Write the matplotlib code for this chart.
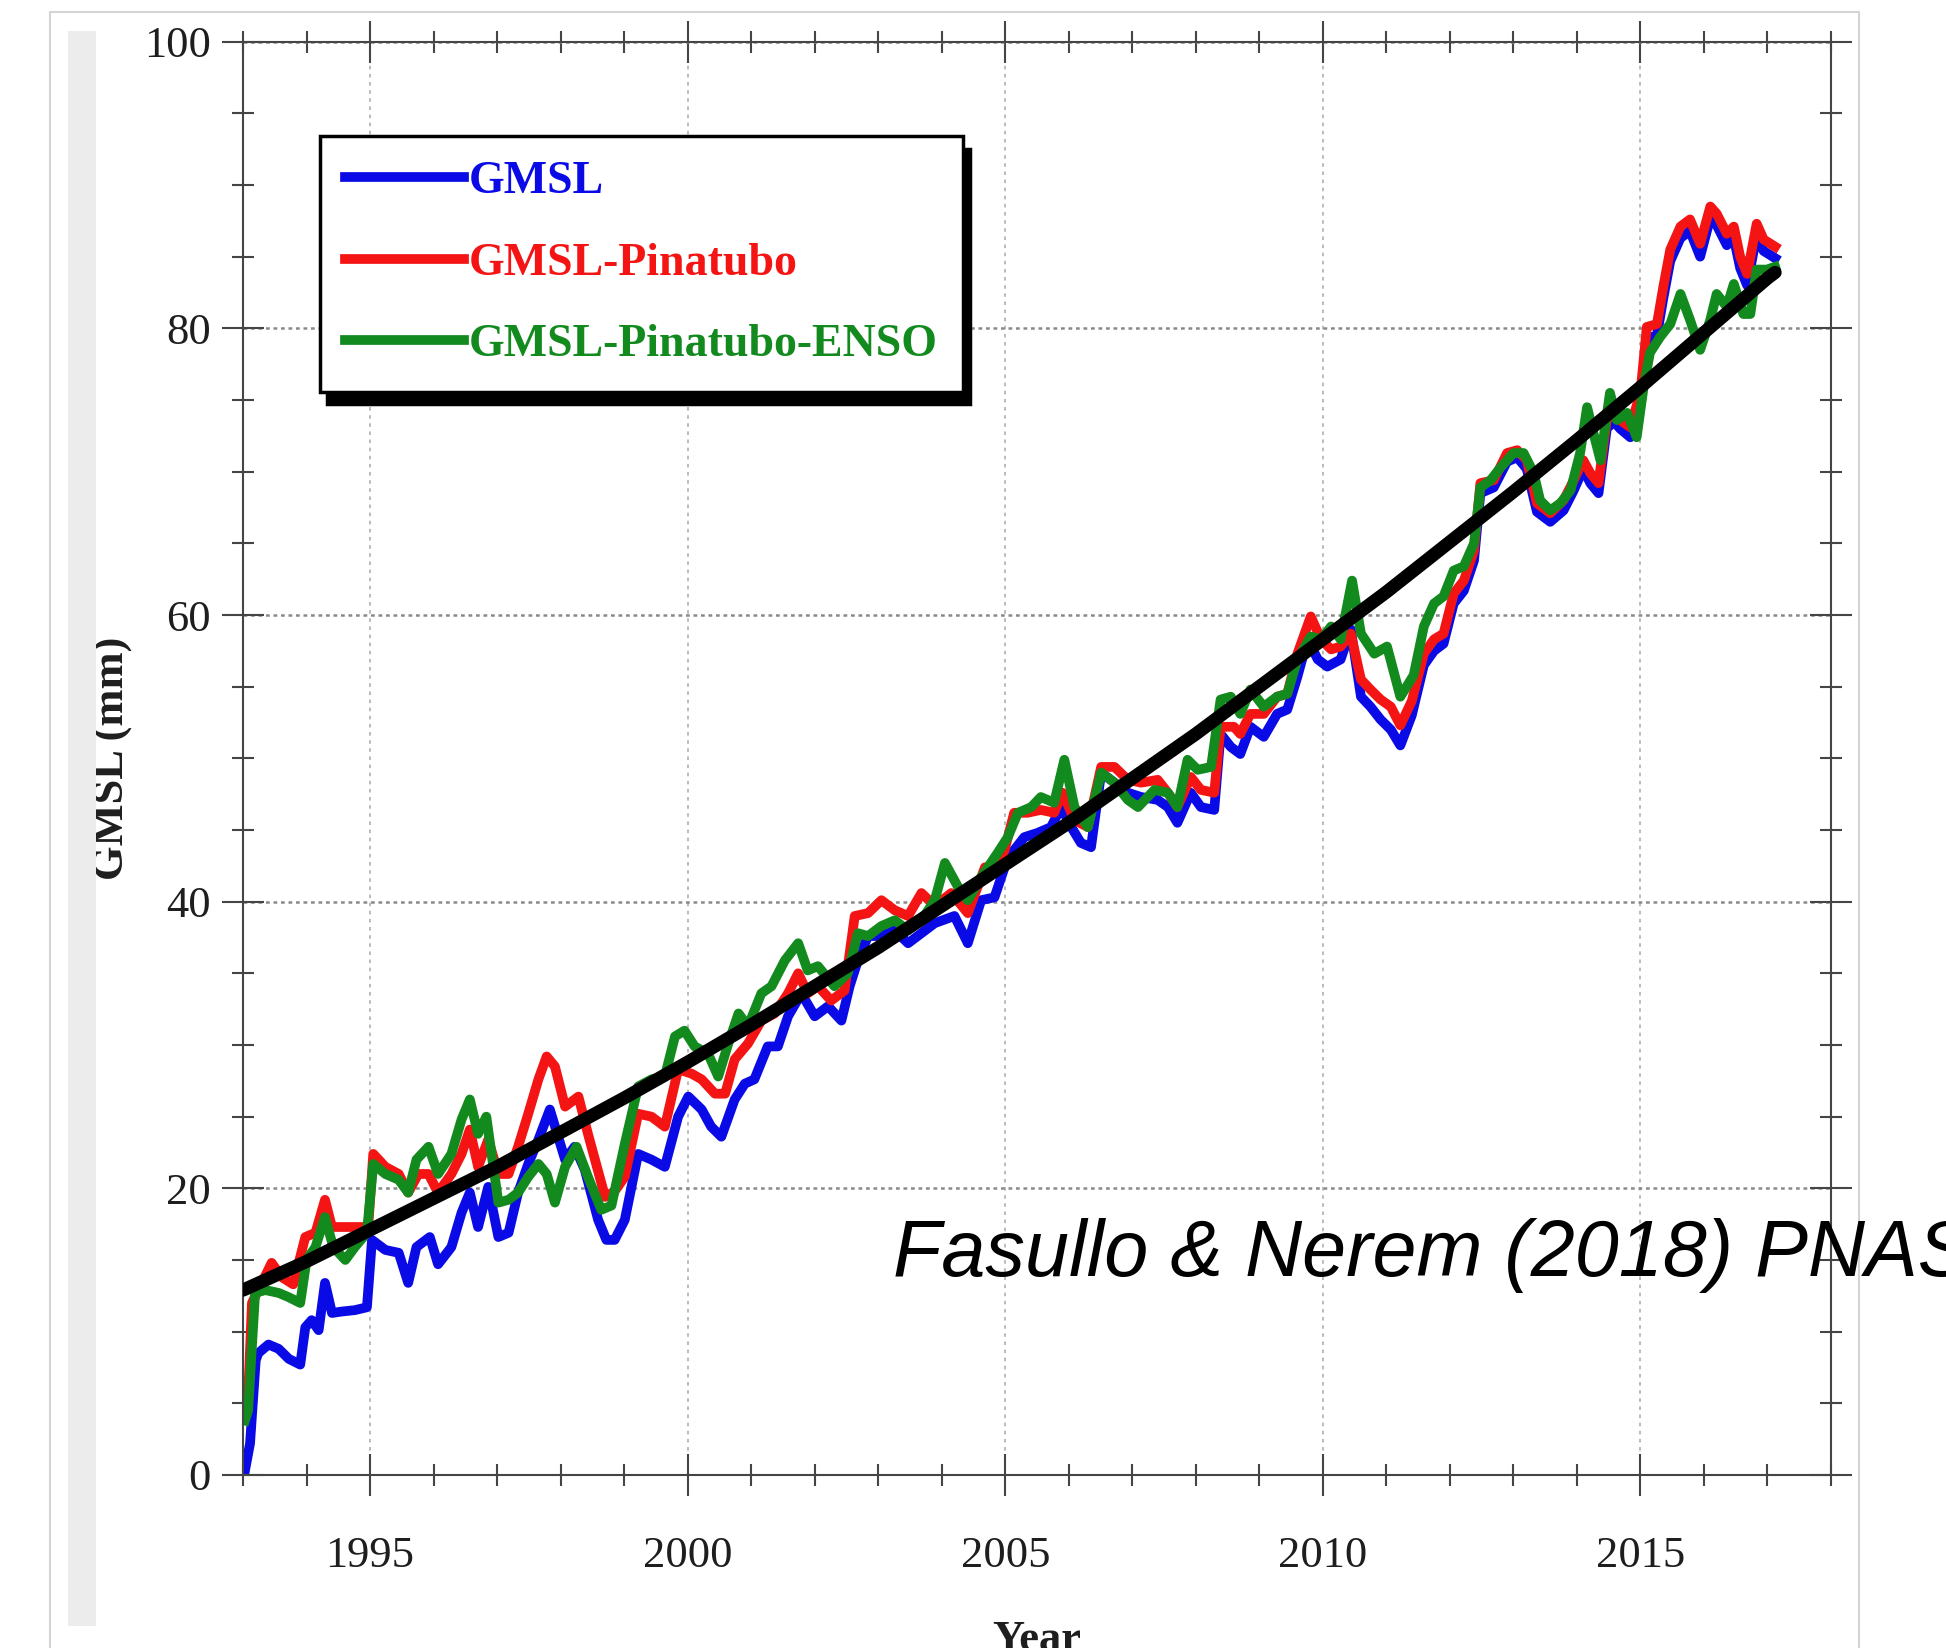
import numpy as np
import matplotlib.pyplot as plt
from matplotlib.ticker import MultipleLocator
from matplotlib.patches import Rectangle

plt.rcParams['font.family'] = ['Liberation Serif', 'DejaVu Serif']

# GMSL series (year, mm)
gmsl_year = [1993.03, 1993.11, 1993.2, 1993.24, 1993.4, 1993.56, 1993.72, 1993.9, 1993.98, 1994.08,
             1994.19, 1994.29, 1994.4, 1994.55, 1994.76, 1994.95, 1995.03, 1995.24, 1995.45, 1995.6,
             1995.73, 1995.94, 1996.07, 1996.28, 1996.44, 1996.57, 1996.7, 1996.86, 1997.02, 1997.18,
             1997.33, 1997.49, 1997.65, 1997.83, 1997.96, 1998.07, 1998.22, 1998.38, 1998.59, 1998.72,
             1998.85, 1999.01, 1999.22, 1999.43, 1999.64, 1999.85, 2000.01, 2000.22, 2000.37, 2000.53,
             2000.74, 2000.9, 2001.05, 2001.26, 2001.42, 2001.58, 2001.79, 2002.0, 2002.21, 2002.42,
             2002.55, 2002.68, 2002.84, 2003.05, 2003.26, 2003.47, 2003.68, 2003.89, 2004.2, 2004.41,
             2004.62, 2004.83, 2004.99, 2005.14, 2005.3, 2005.51, 2005.72, 2005.88, 2006.04, 2006.19,
             2006.35, 2006.51, 2006.72, 2006.93, 2007.14, 2007.4, 2007.56, 2007.71, 2007.92, 2008.08,
             2008.29, 2008.39, 2008.55, 2008.7, 2008.86, 2009.07, 2009.28, 2009.44, 2009.6, 2009.76,
             2009.92, 2010.07, 2010.28, 2010.44, 2010.6, 2010.75, 2010.91, 2011.07, 2011.22, 2011.4,
             2011.59, 2011.75, 2011.9, 2012.06, 2012.22, 2012.38, 2012.48, 2012.69, 2012.9, 2013.06,
             2013.21, 2013.37, 2013.58, 2013.79, 2013.95, 2014.1, 2014.21, 2014.34, 2014.47, 2014.58,
             2014.68, 2014.84, 2015.0, 2015.1, 2015.26, 2015.36, 2015.47, 2015.63, 2015.78, 2015.94,
             2016.1, 2016.2, 2016.36, 2016.47, 2016.57, 2016.68, 2016.83, 2016.94, 2017.12]
gmsl = [0.3, 2.2, 8.0, 8.5, 9.1, 8.8, 8.1, 7.7, 10.3, 10.8,
        10.1, 13.4, 11.3, 11.4, 11.5, 11.7, 16.4, 15.7, 15.5, 13.4,
        15.9, 16.6, 14.7, 15.9, 18.3, 19.7, 17.3, 20.1, 16.6, 16.9,
        19.7, 21.7, 23.4, 25.5, 23.6, 22.0, 22.9, 21.3, 17.8, 16.4,
        16.4, 17.8, 22.4, 22.0, 21.5, 25.0, 26.4, 25.5, 24.3, 23.6,
        26.2, 27.3, 27.6, 29.9, 29.9, 32.0, 33.6, 32.0, 32.7, 31.7,
        34.1, 35.9, 37.6, 37.6, 38.0, 37.1, 37.8, 38.5, 39.0, 37.1,
        40.1, 40.3, 42.4, 43.6, 44.5, 44.8, 45.2, 46.6, 45.2, 44.1,
        43.8, 49.0, 48.3, 47.6, 47.3, 47.1, 46.6, 45.5, 47.6, 46.6,
        46.4, 51.7, 50.8, 50.3, 52.2, 51.5, 53.1, 53.4, 55.7, 58.3,
        56.9, 56.4, 56.9, 59.0, 54.3, 53.6, 52.7, 52.0, 50.9, 53.0,
        56.5, 57.5, 58.0, 60.8, 61.7, 63.8, 68.5, 68.9, 70.7, 71.0,
        70.2, 67.2, 66.5, 67.3, 68.7, 70.2, 69.2, 68.5, 73.0, 73.5,
        73.0, 72.4, 74.8, 79.3, 79.5, 82.1, 84.7, 86.3, 86.8, 85.0,
        87.7, 87.2, 85.8, 86.3, 84.2, 83.0, 86.5, 85.4, 84.9]

# GMSL-Pinatubo
pin_year = [1993.03, 1993.08, 1993.14, 1993.24, 1993.45, 1993.61, 1993.79, 1993.98, 1994.14, 1994.29,
            1994.4, 1994.55, 1994.76, 1994.97, 1995.05, 1995.24, 1995.45, 1995.6, 1995.76, 1995.92,
            1996.07, 1996.28, 1996.44, 1996.57, 1996.7, 1996.86, 1997.02, 1997.18, 1997.33, 1997.49,
            1997.65, 1997.78, 1997.91, 1998.07, 1998.28, 1998.43, 1998.7, 1998.85, 1999.01, 1999.22,
            1999.43, 1999.64, 1999.85, 2000.06, 2000.22, 2000.43, 2000.59, 2000.74, 2000.95, 2001.16,
            2001.37, 2001.58, 2001.74, 2001.89, 2002.05, 2002.26, 2002.47, 2002.63, 2002.84, 2003.05,
            2003.26, 2003.47, 2003.68, 2003.89, 2004.15, 2004.41, 2004.68, 2004.83, 2004.99, 2005.14,
            2005.35, 2005.56, 2005.77, 2005.9, 2006.09, 2006.3, 2006.51, 2006.72, 2006.93, 2007.14,
            2007.4, 2007.56, 2007.71, 2007.92, 2008.08, 2008.29, 2008.39, 2008.6, 2008.7, 2008.86,
            2009.07, 2009.28, 2009.44, 2009.6, 2009.81, 2009.97, 2010.13, 2010.28, 2010.44, 2010.6,
            2010.75, 2010.91, 2011.07, 2011.22, 2011.4, 2011.59, 2011.75, 2011.9, 2012.06, 2012.22,
            2012.38, 2012.48, 2012.69, 2012.9, 2013.06, 2013.21, 2013.37, 2013.58, 2013.79, 2013.95,
            2014.1, 2014.21, 2014.34, 2014.47, 2014.58, 2014.68, 2014.84, 2015.0, 2015.1, 2015.26,
            2015.36, 2015.47, 2015.63, 2015.78, 2015.94, 2016.1, 2016.2, 2016.36, 2016.47, 2016.57,
            2016.68, 2016.83, 2016.94, 2017.12]
pin = [5.5, 5.5, 12.0, 12.9, 14.8, 13.8, 13.3, 16.6, 16.9, 19.2,
       17.3, 17.3, 17.3, 17.3, 22.4, 21.5, 21.0, 19.7, 21.0, 21.0,
       19.7, 21.0, 22.4, 24.1, 21.5, 23.4, 21.0, 21.0, 22.9, 25.2,
       27.6, 29.2, 28.5, 25.7, 26.4, 23.8, 19.4, 19.8, 20.8, 25.2,
       25.0, 24.3, 28.3, 28.0, 27.6, 26.6, 26.6, 29.0, 30.1, 31.7,
       32.2, 33.6, 35.0, 33.6, 34.1, 33.1, 33.8, 39.0, 39.2, 40.1,
       39.4, 39.0, 40.6, 39.7, 40.6, 39.2, 42.4, 42.0, 43.6, 46.2,
       46.2, 46.4, 46.2, 47.6, 45.7, 45.2, 49.4, 49.4, 48.5, 48.3,
       48.5, 47.6, 46.6, 48.7, 47.8, 47.6, 52.2, 52.2, 51.7, 53.1,
       53.1, 54.3, 54.5, 57.3, 59.9, 58.3, 57.6, 57.8, 58.7, 55.5,
       54.8, 54.1, 53.6, 52.3, 54.0, 57.3, 58.3, 58.7, 61.5, 62.4,
       64.5, 69.2, 69.4, 71.3, 71.5, 70.8, 67.8, 67.1, 68.0, 69.4,
       70.8, 69.9, 69.2, 73.6, 74.1, 73.6, 73.1, 75.5, 80.1, 80.3,
       82.9, 85.5, 87.1, 87.6, 85.9, 88.5, 88.0, 86.6, 87.1, 85.0,
       83.8, 87.3, 86.2, 85.7]

# GMSL-Pinatubo-ENSO
enso_year = [1993.03, 1993.08, 1993.19, 1993.35, 1993.56, 1993.72, 1993.9, 1994.0, 1994.14, 1994.29,
             1994.42, 1994.61, 1994.76, 1994.95, 1995.05, 1995.24, 1995.45, 1995.6, 1995.73, 1995.92,
             1996.07, 1996.28, 1996.44, 1996.57, 1996.7, 1996.83, 1997.02, 1997.18, 1997.33, 1997.49,
             1997.65, 1997.78, 1997.91, 1998.07, 1998.25, 1998.43, 1998.64, 1998.8, 1999.01, 1999.22,
             1999.43, 1999.64, 1999.8, 1999.95, 2000.11, 2000.32, 2000.48, 2000.64, 2000.8, 2000.95,
             2001.16, 2001.32, 2001.53, 2001.74, 2001.89, 2002.05, 2002.31, 2002.52, 2002.68, 2002.84,
             2003.05, 2003.26, 2003.47, 2003.68, 2003.89, 2004.05, 2004.26, 2004.41, 2004.62, 2004.88,
             2005.04, 2005.2, 2005.41, 2005.56, 2005.77, 2005.93, 2006.09, 2006.3, 2006.51, 2006.72,
             2006.93, 2007.09, 2007.35, 2007.56, 2007.71, 2007.87, 2008.03, 2008.24, 2008.39, 2008.55,
             2008.7, 2008.86, 2009.07, 2009.28, 2009.44, 2009.6, 2009.81, 2009.97, 2010.13, 2010.28,
             2010.46, 2010.6, 2010.81, 2011.01, 2011.22, 2011.43, 2011.59, 2011.75, 2011.9, 2012.06,
             2012.22, 2012.38, 2012.48, 2012.64, 2012.8, 2013.0, 2013.16, 2013.32, 2013.42, 2013.58,
             2013.74, 2013.9, 2014.05, 2014.16, 2014.26, 2014.37, 2014.52, 2014.63, 2014.79, 2014.94,
             2015.05, 2015.15, 2015.31, 2015.47, 2015.63, 2015.78, 2015.94, 2016.1, 2016.2, 2016.36,
             2016.47, 2016.62, 2016.73, 2016.83, 2016.99, 2017.12]
enso = [3.8, 4.5, 12.7, 12.9, 12.7, 12.4, 12.0, 15.0, 15.9, 18.0,
        15.9, 15.0, 15.9, 16.9, 21.7, 21.0, 20.6, 19.7, 22.0, 22.9,
        21.0, 22.4, 24.8, 26.2, 23.8, 25.0, 19.0, 19.2, 19.7, 20.8,
        21.7, 21.0, 19.0, 21.5, 22.9, 20.8, 18.5, 18.8, 23.1, 27.1,
        27.6, 27.8, 30.6, 31.0, 29.9, 29.4, 27.8, 30.1, 32.2, 31.3,
        33.6, 34.1, 35.9, 37.1, 35.2, 35.5, 34.1, 35.0, 37.8, 37.6,
        38.3, 38.7, 38.0, 38.7, 40.1, 42.7, 41.0, 40.1, 41.7, 43.4,
        44.5, 46.2, 46.6, 47.3, 46.9, 49.9, 46.6, 45.2, 49.0, 48.3,
        47.1, 46.6, 47.8, 47.6, 46.6, 49.9, 49.2, 49.4, 54.1, 54.3,
        53.1, 54.8, 53.6, 54.3, 54.5, 56.9, 58.5, 58.3, 59.2, 58.3,
        62.4, 58.7, 57.3, 57.8, 54.3, 55.8, 59.2, 60.8, 61.3, 63.1,
        63.4, 65.0, 68.9, 69.4, 70.3, 71.3, 71.3, 69.9, 68.0, 67.3,
        67.8, 68.7, 71.3, 74.5, 72.7, 70.8, 75.5, 73.6, 74.1, 72.4,
        75.9, 78.3, 79.4, 80.3, 82.4, 80.6, 78.5, 80.6, 82.4, 81.5,
        83.1, 81.0, 81.0, 84.1, 84.1, 84.3]

# quadratic trend curve as drawn (black)
trend_year = [1993.0, 1994, 1995, 1996, 1997, 1998, 1999, 2000, 2001, 2002, 2003, 2004, 2005,
              2006, 2007, 2008, 2009, 2010, 2011, 2012, 2013, 2014, 2015, 2016, 2017, 2017.12]
trend = [12.9, 14.9, 17.1, 19.3, 21.5, 23.9, 26.3, 28.8, 31.4, 34.1, 36.8, 39.7, 42.6,
         45.5, 48.6, 51.7, 55.0, 58.3, 61.6, 65.1, 68.6, 72.2, 75.9, 79.7, 83.5, 83.9]

labels = ['GMSL', 'GMSL-Pinatubo', 'GMSL-Pinatubo-ENSO']

fig = plt.figure(figsize=(19.46, 16.48), dpi=100)

# slide-style frame around the picture
fig.patches.append(Rectangle((0.0257, -0.05), 0.9296, 1.0427, transform=fig.transFigure,
                             fill=False, edgecolor='#d4d4d4', lw=1.5, zorder=0))
fig.patches.append(Rectangle((0.0349, 0.0133), 0.0144, 0.968, transform=fig.transFigure,
                             facecolor='#ececec', edgecolor='none', zorder=0))

ax = fig.add_axes([0.1249, 0.1050, 0.8160, 0.8697])

lb, = ax.plot(gmsl_year, gmsl, color='#0a0ae6', lw=7, label=labels[0])
lr, = ax.plot(pin_year, pin, color='#f41414', lw=7, label=labels[1])
lg, = ax.plot(enso_year, enso, color='#138a1e', lw=7, label=labels[2])
ax.plot(trend_year, trend, color='black', lw=9.5, solid_capstyle='round', zorder=3)

ax.set_xlim(1993, 2018)
ax.set_ylim(0, 100)
ax.set_xticks([1995, 2000, 2005, 2010, 2015])
ax.xaxis.set_minor_locator(MultipleLocator(1))
ax.set_yticks([0, 20, 40, 60, 80, 100])
ax.yaxis.set_minor_locator(MultipleLocator(5))

ax.tick_params(which='both', direction='inout', top=True, right=True, color='#454545', width=1.5,
               labelcolor='#1e1e1e', labelsize=32)
ax.tick_params(which='major', length=30)
ax.tick_params(which='minor', length=16)
ax.tick_params(axis='x', which='major', pad=29)
ax.tick_params(axis='y', which='major', pad=8)
for sp in ax.spines.values():
    sp.set_color('#454545')
    sp.set_linewidth(1.5)

ax.grid(axis='x', which='major', color='#b5b5b5', ls=(0, (2, 2.5)), lw=1.3)
ax.grid(axis='y', which='major', color='#8a8a8a', ls=(0, (1.5, 1.5)), lw=1.8)

ax.set_ylabel('GMSL (mm)', fontsize=32, fontweight='bold', color='#1e1e1e')
ax.yaxis.set_label_coords(-0.069, 0.5)
ax.set_xlabel('Year', fontsize=32, fontweight='bold', color='#1e1e1e')
ax.xaxis.set_label_coords(0.5, -0.101)

leg = ax.legend(handles=[lb, lr, lg], loc='upper left', bbox_to_anchor=(0.0485, 0.9342),
                borderaxespad=0, fancybox=False, edgecolor='black', framealpha=1,
                shadow={'color': 'black', 'alpha': 1, 'ox': 5, 'oy': -9},
                prop={'family': 'Liberation Serif', 'weight': 'bold', 'size': 33},
                labelcolor='linecolor', handlelength=2.6, handletextpad=0.1,
                borderpad=0.55, labelspacing=0.86)
leg.get_frame().set_linewidth(2.5)

fig.text(0.459, 0.2257, 'Fasullo & Nerem (2018) PNAS', family='Liberation Sans', style='italic',
         fontsize=57, va='baseline', color='black')

fig.savefig('out.png', dpi=100)
